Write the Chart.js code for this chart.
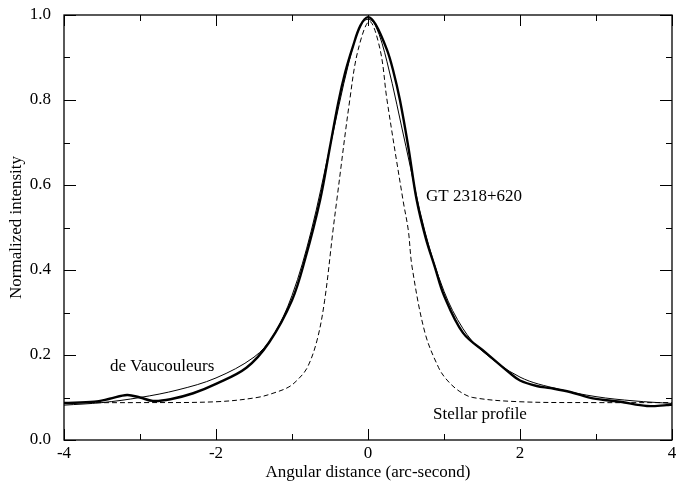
<!DOCTYPE html>
<html>
<head>
<meta charset="utf-8">
<script src="https://cdn.jsdelivr.net/npm/chart.js@4/dist/chart.umd.min.js"></script>
<style>
  html, body { margin: 0; padding: 0; background: #fff; }
  #wrap { width: 693px; height: 481px; }
</style>
</head>
<body>
<div id="wrap"><canvas id="chart" width="693" height="481"></canvas></div>
<script>
// Perfil observado GT 2318+620 (línea gruesa)
const gtX = [-4, -3.6, -3.4, -3.17, -3.0, -2.83, -2.6, -2.3, -2.0, -1.6, -1.3, -1.0, -0.83, -0.63, -0.5, -0.39, -0.3, -0.2, -0.1, 0, 0.1, 0.25, 0.33, 0.42, 0.53, 0.64, 0.76, 0.88, 1.0, 1.25, 1.56, 1.87, 2.0, 2.22, 2.4, 2.66, 2.96, 3.32, 3.67, 3.93, 4.0];
const gtY = [0.087, 0.09, 0.097, 0.106, 0.1, 0.092, 0.096, 0.11, 0.132, 0.17, 0.23, 0.329, 0.424, 0.565, 0.69, 0.795, 0.865, 0.925, 0.975, 0.995, 0.978, 0.918, 0.87, 0.8, 0.69, 0.565, 0.475, 0.407, 0.34, 0.252, 0.204, 0.157, 0.14, 0.127, 0.122, 0.113, 0.098, 0.09, 0.08, 0.082, 0.083];

// Modelo de Vaucouleurs (línea fina)
const dvX = [-4, -3.5, -3, -2.5, -2, -1.5, -1.25, -1, -0.75, -0.5, -0.25, -0.1, 0, 0.1, 0.25, 0.5, 0.75, 1, 1.25, 1.5, 2, 2.5, 3, 3.5, 4];
const dvY = [0.082, 0.088, 0.1, 0.118, 0.146, 0.195, 0.245, 0.34, 0.49, 0.69, 0.89, 0.975, 0.99, 0.975, 0.89, 0.69, 0.49, 0.35, 0.262, 0.21, 0.148, 0.12, 0.102, 0.092, 0.086];

// Perfil estelar (línea discontinua)
const stX = [-4, -3, -2, -1.46, -1.2, -1.04, -0.93, -0.8, -0.67, -0.57, -0.46, -0.41, -0.24, -0.13, 0.02, 0.16, 0.25, 0.46, 0.53, 0.58, 0.75, 0.93, 1.04, 1.2, 1.38, 2, 3, 4];
const stY = [0.088, 0.088, 0.09, 0.10, 0.113, 0.125, 0.141, 0.17, 0.235, 0.329, 0.494, 0.565, 0.8, 0.918, 0.985, 0.918, 0.8, 0.565, 0.494, 0.407, 0.252, 0.17, 0.141, 0.115, 0.10, 0.09, 0.088, 0.088];

// Marcas de los ejes
const xMajor = [-4, -2, 0, 2, 4];
const xMinor = [-3, -1, 1, 3];
const yMajor = [0, 0.2, 0.4, 0.6, 0.8, 1.0];
const yMinor = [0.1, 0.3, 0.5, 0.7, 0.9];

// Etiquetas dentro del gráfico (coordenadas en unidades de datos)
const notes = [
  { text: 'GT 2318+620', x: 0.763, y: 0.574 },
  { text: 'de Vaucouleurs', x: -3.395, y: 0.174 },
  { text: 'Stellar profile', x: 0.855, y: 0.061 }
];

const FONT = 'Liberation Serif';
const toPoints = (xs, ys) => xs.map((x, i) => ({ x: x, y: ys[i] }));

// Marco y marcas hacia adentro, estilo gráfico de revista
const framePlugin = {
  id: 'frame',
  afterDraw(chart) {
    const { ctx, chartArea: a, scales } = chart;
    const sx = scales.x, sy = scales.y;
    ctx.save();
    ctx.strokeStyle = '#000';
    ctx.lineWidth = 1.3;
    ctx.strokeRect(a.left, a.top, a.right - a.left, a.bottom - a.top);
    ctx.lineWidth = 1;
    ctx.beginPath();
    const xt = (v, len) => {
      const p = Math.round(sx.getPixelForValue(v)) + 0.5;
      ctx.moveTo(p, a.bottom); ctx.lineTo(p, a.bottom - len);
      ctx.moveTo(p, a.top); ctx.lineTo(p, a.top + len);
    };
    const yt = (v, len) => {
      const p = Math.round(sy.getPixelForValue(v)) + 0.5;
      ctx.moveTo(a.left, p); ctx.lineTo(a.left + len, p);
      ctx.moveTo(a.right, p); ctx.lineTo(a.right - len, p);
    };
    xMajor.forEach(v => xt(v, 11));
    xMinor.forEach(v => xt(v, 6));
    yMajor.forEach(v => yt(v, 12));
    yMinor.forEach(v => yt(v, 6));
    ctx.stroke();

    ctx.fillStyle = '#000';
    ctx.font = '17px "' + FONT + '"';
    ctx.textAlign = 'left';
    ctx.textBaseline = 'middle';
    notes.forEach(n => {
      ctx.fillText(n.text, sx.getPixelForValue(n.x), sy.getPixelForValue(n.y));
    });
    ctx.restore();
  }
};

const lineStyle = {
  borderColor: '#000',
  pointRadius: 0,
  tension: 0.35,
  fill: false
};

new Chart(document.getElementById('chart').getContext('2d'), {
  type: 'line',
  data: {
    datasets: [
      Object.assign({ label: 'Stellar profile', data: toPoints(stX, stY), borderWidth: 1, borderDash: [5, 3] }, lineStyle),
      Object.assign({ label: 'de Vaucouleurs', data: toPoints(dvX, dvY), borderWidth: 1 }, lineStyle),
      Object.assign({ label: 'GT 2318+620', data: toPoints(gtX, gtY), borderWidth: 2.4 }, lineStyle)
    ]
  },
  options: {
    responsive: false,
    animation: false,
    layout: { padding: { top: 15, right: 21, left: 0, bottom: 0 } },
    plugins: {
      legend: { display: false },
      tooltip: { enabled: false }
    },
    scales: {
      x: {
        type: 'linear',
        min: -4,
        max: 4,
        afterFit: s => { s.height = 41; s.paddingLeft = 0; s.paddingRight = 0; },
        afterBuildTicks: s => { s.ticks = xMajor.map(v => ({ value: v })); },
        grid: { display: false, drawTicks: false },
        border: { display: false },
        ticks: {
          color: '#000',
          padding: 3,
          maxRotation: 0,
          font: { family: FONT, size: 17 },
          callback: v => String(v)
        },
        title: {
          display: true,
          text: 'Angular distance (arc-second)',
          color: '#000',
          font: { family: FONT, size: 17 },
          padding: { top: 0, bottom: -2 }
        }
      },
      y: {
        type: 'linear',
        min: 0,
        max: 1,
        afterFit: s => { s.width = 64; s.paddingTop = 0; s.paddingBottom = 0; },
        afterBuildTicks: s => { s.ticks = yMajor.map(v => ({ value: v })); },
        grid: { display: false, drawTicks: false },
        border: { display: false },
        ticks: {
          color: '#000',
          padding: 13,
          font: { family: FONT, size: 17 },
          callback: v => Number(v).toFixed(1)
        },
        title: {
          display: true,
          text: 'Normalized intensity',
          color: '#000',
          font: { family: FONT, size: 17 },
          padding: { top: 6, bottom: 0 }
        }
      }
    }
  },
  plugins: [framePlugin]
});
</script>
</body>
</html>
